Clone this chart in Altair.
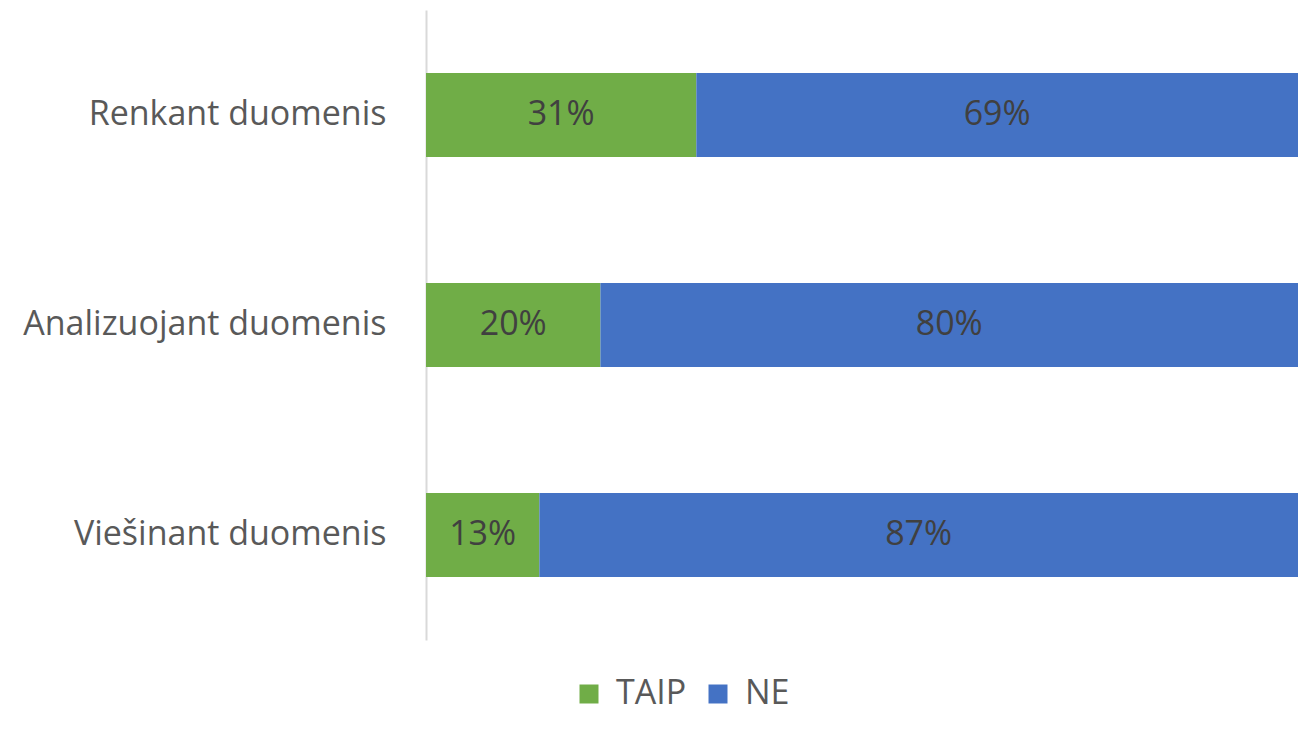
import altair as alt
import pandas as pd

categories = ["Renkant duomenis", "Analizuojant duomenis", "Viešinant duomenis"]
series = ["TAIP", "NE"]
taip = [31, 20, 13]
ne = [69, 80, 87]
colors = ["#70AD47", "#4472C4"]

rows = []
for c, t, n in zip(categories, taip, ne):
    rows.append({"cat": c, "series": "TAIP", "value": t, "ord": 0})
    rows.append({"cat": c, "series": "NE", "value": n, "ord": 1})
df = pd.DataFrame(rows)

FONT = "Open Sans"
FS = 34

base = alt.Chart(df).transform_stack(
    stack="value", as_=["x0", "x1"], groupby=["cat"], sort=[alt.SortField("ord")]
).transform_calculate(mid="(datum.x0 + datum.x1) / 2", lbl="datum.value + '%'")

yenc = alt.Y("cat:N", sort=categories, title=None,
             scale=alt.Scale(paddingInner=0.6, paddingOuter=0.3),
             axis=alt.Axis(labelFontSize=FS, labelFont=FONT, labelColor="#595959",
                           labelPadding=40, ticks=False, domainColor="#D9D9D9",
                           domainWidth=2, grid=False, labelLimit=500))

xscale = alt.Scale(domain=[0, 100], nice=False, zero=True)

bars = base.mark_bar().encode(
    x=alt.X("x0:Q", scale=xscale, axis=None),
    x2="x1:Q",
    y=yenc,
    color=alt.Color("series:N", sort=series,
                    scale=alt.Scale(domain=series, range=colors),
                    legend=alt.Legend(title=None, orient="none", direction="horizontal",
                                      legendX=146, legendY=667, symbolType="square",
                                      symbolSize=361, symbolStrokeWidth=0,
                                      labelFontSize=FS, labelFont=FONT, labelColor="#595959",
                                      labelOffset=10, columnPadding=14)),
)

text = base.mark_text(fontSize=FS, font=FONT, color="#404040", baseline="middle").encode(
    x=alt.X("mid:Q", scale=xscale, axis=None),
    y=alt.Y("cat:N", sort=categories),
    text="lbl:N",
)

chart = (bars + text).properties(
    width=872, height=630,
    autosize=alt.AutoSizeParams(type="none"),
    padding={"left": 418, "top": 2, "right": 0, "bottom": 80},
).configure_view(stroke=None)

chart.save("out.html", embed_options={"renderer": "svg", "actions": False})
